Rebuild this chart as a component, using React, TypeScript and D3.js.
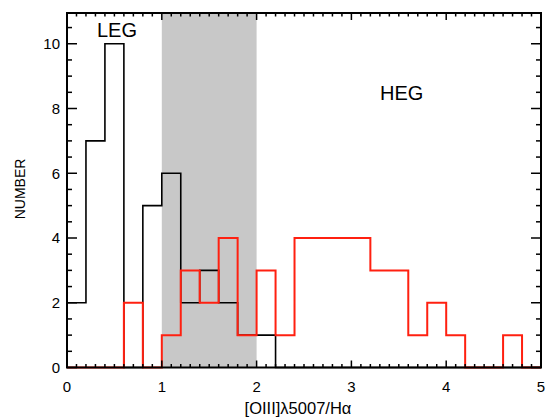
import React from "react";
import * as d3 from "d3";

const BIN_EDGES = [0, 0.2, 0.4, 0.6, 0.8, 1.0, 1.2, 1.4, 1.6, 1.8, 2.0, 2.2, 2.4, 2.6, 2.8, 3.0, 3.2, 3.4, 3.6, 3.8, 4.0, 4.2, 4.4, 4.6, 4.8, 5.0];
const LEG_COUNTS = [2, 7, 10, 0, 5, 6, 2, 3, 2, 1, 1, 0, 0, 0, 0, 0, 0, 0, 0, 0, 0, 0, 0, 0, 0];
const HEG_COUNTS = [0, 0, 0, 2, 0, 1, 3, 2, 4, 1, 3, 1, 4, 4, 4, 4, 3, 3, 1, 2, 1, 0, 0, 1, 0];
const SHADE_RANGE = [1, 2];
const X_TICKS = [0, 1, 2, 3, 4, 5];
const Y_TICKS = [0, 2, 4, 6, 8, 10];
const X_DOMAIN = [0, 5];
const Y_DOMAIN = [0, 10.95];

const W = 546, H = 417;
const L = 67, R = 541, T = 13, B = 367.5;

export default function App() {
  const x = d3.scaleLinear().domain(X_DOMAIN).range([L, R]);
  const y = d3.scaleLinear().domain(Y_DOMAIN).range([B, T]);

  const toPts = (counts: number[]) => {
    const pts: [number, number][] = [[BIN_EDGES[0], 0]];
    counts.forEach((c, i) => pts.push([BIN_EDGES[i], c]));
    pts.push([BIN_EDGES[BIN_EDGES.length - 1], 0]);
    return pts;
  };
  const line = d3
    .line<[number, number]>()
    .x((d) => x(d[0]))
    .y((d) => y(d[1]))
    .curve(d3.curveStepAfter);

  const xMinor = d3.range(0, 50).map((i) => i / 10).filter((v) => Math.abs(v - Math.round(v)) > 1e-6);
  const yMinor = d3.range(0, 22).map((i) => i / 2).filter((v) => v % 2 !== 0 && v <= Y_DOMAIN[1]);

  const font = "'Liberation Sans', Arial, Helvetica, sans-serif";

  return (
    <svg width={W} height={H} style={{ position: "absolute", left: 0, top: 0, background: "#fff" }}>
      <rect x={0} y={0} width={W} height={H} fill="#fff" />
      <rect
        x={x(SHADE_RANGE[0])}
        y={T}
        width={x(SHADE_RANGE[1]) - x(SHADE_RANGE[0])}
        height={B - T}
        fill="#c8c8c8"
      />
      <path d={line(toPts(LEG_COUNTS)) || ""} fill="none" stroke="#000" strokeWidth={1.6} />
      <path d={line(toPts(HEG_COUNTS)) || ""} fill="none" stroke="#ff2010" strokeWidth={2} />

      {X_TICKS.map((v) => (
        <g key={"xt" + v}>
          <line x1={x(v)} x2={x(v)} y1={B} y2={B - 7} stroke="#000" strokeWidth={1.5} />
          <line x1={x(v)} x2={x(v)} y1={T} y2={T + 7} stroke="#000" strokeWidth={1.5} />
          <text x={x(v)} y={392} textAnchor="middle" fontSize={15} fontFamily={font} fill="#000">
            {v}
          </text>
        </g>
      ))}
      {xMinor.map((v) => (
        <g key={"xm" + v}>
          <line x1={x(v)} x2={x(v)} y1={B} y2={B - 3.5} stroke="#000" strokeWidth={1.5} />
          <line x1={x(v)} x2={x(v)} y1={T} y2={T + 3.5} stroke="#000" strokeWidth={1.5} />
        </g>
      ))}
      {Y_TICKS.map((v) => (
        <g key={"yt" + v}>
          <line x1={L} x2={L + 10} y1={y(v)} y2={y(v)} stroke="#000" strokeWidth={1.5} />
          <line x1={R} x2={R - 10} y1={y(v)} y2={y(v)} stroke="#000" strokeWidth={1.5} />
          <text x={60} y={y(v)} dy="0.36em" textAnchor="end" fontSize={15} fontFamily={font} fill="#000">
            {v}
          </text>
        </g>
      ))}
      {yMinor.map((v) => (
        <g key={"ym" + v}>
          <line x1={L} x2={L + 5} y1={y(v)} y2={y(v)} stroke="#000" strokeWidth={1.5} />
          <line x1={R} x2={R - 5} y1={y(v)} y2={y(v)} stroke="#000" strokeWidth={1.5} />
        </g>
      ))}

      <rect x={L} y={T} width={R - L} height={B - T} fill="none" stroke="#000" strokeWidth={2} />

      <text x={97} y={37} fontSize={20} fontFamily={font} fill="#000">LEG</text>
      <text x={380} y={100} fontSize={20} fontFamily={font} fill="#000">HEG</text>

      <text
        transform={`translate(25, 189) rotate(-90)`}
        textAnchor="middle"
        fontSize={14}
        fontFamily={font}
        fill="#000"
      >
        NUMBER
      </text>
      <text x={298} y={414} textAnchor="middle" fontSize={16.5} fontFamily={font} fill="#000">
        [OIII]λ5007/Hα
      </text>
    </svg>
  );
}
